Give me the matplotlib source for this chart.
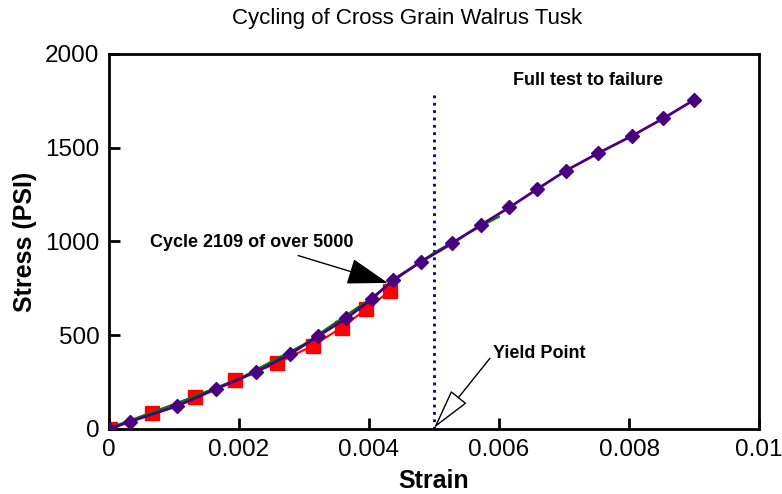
import numpy as np
import matplotlib
matplotlib.use("Agg")
import matplotlib.pyplot as plt

plt.rcParams['font.family'] = ['Liberation Sans', 'DejaVu Sans']

# full test to failure (purple diamonds)
full_strain = [0, 0.000323, 0.00105, 0.00165, 0.00226, 0.00279, 0.00322, 0.00365,
               0.00404, 0.00437, 0.0048, 0.00528, 0.00572, 0.00616, 0.00659,
               0.00703, 0.00752, 0.00805, 0.00853, 0.009]
full_stress = [0, 39, 123, 214, 304, 400, 496, 590, 692, 795, 892, 990, 1088,
               1182, 1280, 1378, 1470, 1564, 1657, 1755]

# cycle 2109 (red squares)
cyc_strain = [0.00002, 0.00066, 0.00132, 0.00194, 0.00258, 0.00314, 0.00358,
              0.00396, 0.00432]
cyc_stress = [0, 87, 172, 261, 350, 445, 541, 640, 736]

# green reference curve
ref_strain = [0, 0.001, 0.002, 0.003, 0.004, 0.0045, 0.005, 0.0055, 0.006]
ref_stress = [5, 132, 268, 452, 690, 820, 940, 1040, 1132]

yield_strain = 0.005
yield_top = 1800

xticks = [0, 0.002, 0.004, 0.006, 0.008, 0.01]
xticklabels = ['0', '0.002', '0.004', '0.006', '0.008', '0.01']
yticks = [0, 500, 1000, 1500, 2000]

fig = plt.figure(figsize=(7.82, 4.94), dpi=100)
ax = fig.add_axes([0.1394, 0.1316, 0.8312, 0.7591])

ax.plot(cyc_strain, cyc_stress, color='red', lw=1.5, marker='s', ms=10.5,
        mec='red', mfc='red', zorder=2)
ax.plot(ref_strain, ref_stress, color='green', lw=1.5, zorder=3)
ax.plot(full_strain, full_stress, color='#4b0082', lw=2, marker='D', ms=7.5,
        zorder=4)
ax.plot([yield_strain, yield_strain], [0, yield_top], color='#000080',
        lw=2, ls=':', zorder=1)

ax.set_xlim(0, 0.01)
ax.set_ylim(0, 2000)
ax.set_xticks(xticks)
ax.set_xticklabels(xticklabels)
ax.set_yticks(yticks)
ax.tick_params(direction='in', length=8, width=2, labelsize=17.5, pad=7,
               top=False, right=False)
for s in ax.spines.values():
    s.set_linewidth(2)

ax.set_xlabel('Strain', fontsize=18, fontweight='bold', labelpad=6)
ax.set_ylabel('Stress (PSI)', fontsize=18, fontweight='bold', labelpad=6)
fig.text(0.52, 0.962, 'Cycling of Cross Grain Walrus Tusk', fontsize=16,
         ha='center', va='center')

ax.text(0.00063, 992, 'Cycle 2109 of over 5000', fontsize=13,
        fontweight='bold', va='center', ha='left')
ax.annotate('', xy=(0.00429, 779), xytext=(0.00291, 925),
            arrowprops=dict(arrowstyle='-|>,head_length=1.0,head_width=0.32',
                            fc='black', ec='black', lw=1, mutation_scale=26,
                            shrinkA=0, shrinkB=0))

ax.text(0.00622, 1861, 'Full test to failure', fontsize=13,
        fontweight='bold', va='center', ha='left')

ax.text(0.0059, 402, 'Yield Point', fontsize=13, fontweight='bold',
        va='center', ha='left')
ax.annotate('', xy=(0.005, 5), xytext=(0.00586, 377),
            arrowprops=dict(arrowstyle='-|>,head_length=1.0,head_width=0.25',
                            fc='white', ec='black', lw=1, mutation_scale=26,
                            shrinkA=0, shrinkB=0))

fig.savefig('out.png', dpi=100)
